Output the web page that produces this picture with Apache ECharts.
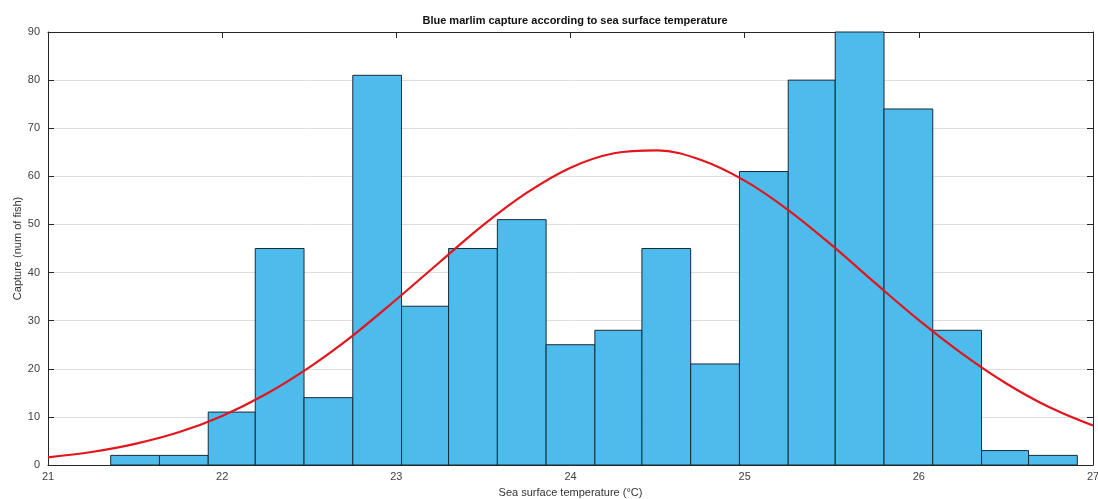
<!DOCTYPE html>
<html>
<head>
<meta charset="utf-8">
<script src="https://cdn.jsdelivr.net/npm/echarts@6/dist/echarts.min.js"></script>
<style>
  html, body { margin: 0; padding: 0; background: #fff; }
  #chart { width: 1098px; height: 499px; }
</style>
</head>
<body>
<div id="chart"></div>
<script>
// histogram bin edges (°C) and counts per bin
const binEdges = [21.36, 21.64, 21.92, 22.19, 22.47, 22.75, 23.03, 23.30, 23.58, 23.86,
                  24.14, 24.41, 24.69, 24.97, 25.25, 25.52, 25.80, 26.08, 26.36, 26.63, 26.91];
const counts = [2, 2, 11, 45, 14, 81, 33, 45, 51, 25, 28, 45, 21, 61, 80, 90, 74, 28, 3, 2];

// fitted curve
const fitX = [21, 21.25, 21.5, 21.75, 22, 22.25, 22.5, 22.75, 23, 23.25, 23.5, 23.75, 24,
              24.25, 24.5, 24.75, 25, 25.25, 25.5, 25.75, 26, 26.25, 26.5, 26.75, 27];
const fitY = [1.6, 2.7, 4.4, 6.8, 10.2, 14.7, 20.3, 26.9, 34.4, 42.2, 49.9, 56.6, 61.8,
              64.8, 65.4, 63.4, 59.1, 53.0, 45.7, 37.8, 30.1, 23.1, 17.0, 12.0, 8.2];

const xTicks = [21, 22, 23, 24, 25, 26, 27];
const yTicks = [0, 10, 20, 30, 40, 50, 60, 70, 80, 90];

const font = 'Liberation Sans, Arial, sans-serif';
const chart = echarts.init(document.getElementById('chart'));

const histData = counts.map((c, i) => [binEdges[i], binEdges[i + 1], c]);
const fitData = fitX.map((x, i) => [x, fitY[i]]);

const axisLine = { show: true, onZero: false, lineStyle: { color: '#262626', width: 1 } };
const tickIn = { show: true, inside: true, length: 6, lineStyle: { color: '#262626' } };

chart.setOption({
  animation: false,
  title: {
    text: 'Blue marlim capture according to sea surface temperature',
    left: 570, top: 10, textAlign: 'center',
    textStyle: { fontFamily: font, fontSize: 11, fontWeight: 'bold', color: '#111' }
  },
  grid: { left: 48, right: 5, top: 32, bottom: 34, outerBoundsMode: 'none', containLabel: false },
  xAxis: [{
    type: 'value', min: xTicks[0], max: xTicks[xTicks.length - 1], interval: 1,
    name: 'Sea surface temperature (°C)', nameLocation: 'middle', nameGap: 22,
    nameTextStyle: { fontFamily: font, fontSize: 11, color: '#333' },
    axisLine: axisLine, axisTick: tickIn,
    axisLabel: { fontFamily: font, fontSize: 11, color: '#404040', margin: 6 },
    splitLine: { show: false }
  }, {
    type: 'value', position: 'top', min: xTicks[0], max: xTicks[xTicks.length - 1], interval: 1,
    axisLine: axisLine, axisTick: tickIn, axisLabel: { show: false }, splitLine: { show: false }
  }],
  yAxis: [{
    type: 'value', min: yTicks[0], max: yTicks[yTicks.length - 1], interval: 10,
    name: 'Capture (num of fish)', nameLocation: 'middle', nameGap: 25, nameMoveOverlap: false,
    nameTextStyle: { fontFamily: font, fontSize: 11, color: '#333' },
    axisLine: axisLine, axisTick: tickIn,
    axisLabel: { fontFamily: font, fontSize: 11, color: '#404040', margin: 8 },
    splitLine: { show: true, lineStyle: { color: '#dedede', width: 1 } }
  }, {
    type: 'value', position: 'right', min: yTicks[0], max: yTicks[yTicks.length - 1], interval: 10,
    axisLine: axisLine, axisTick: tickIn, axisLabel: { show: false }, splitLine: { show: false }
  }],
  series: [{
    type: 'custom',
    xAxisIndex: 0, yAxisIndex: 0,
    data: histData,
    encode: { x: [0, 1], y: 2 },
    renderItem: function (params, api) {
      const p0 = api.coord([api.value(0), 0]);
      const p1 = api.coord([api.value(1), api.value(2)]);
      return {
        type: 'rect',
        shape: { x: p0[0], y: p1[1], width: p1[0] - p0[0], height: p0[1] - p1[1] },
        style: { fill: '#4dbbeb', stroke: '#1b2a38', lineWidth: 1 }
      };
    },
    z: 2
  }, {
    type: 'line',
    xAxisIndex: 0, yAxisIndex: 0,
    data: fitData,
    smooth: 0.35,
    showSymbol: false,
    lineStyle: { color: '#e3151c', width: 2.2 },
    z: 5
  }]
});
</script>
</body>
</html>
